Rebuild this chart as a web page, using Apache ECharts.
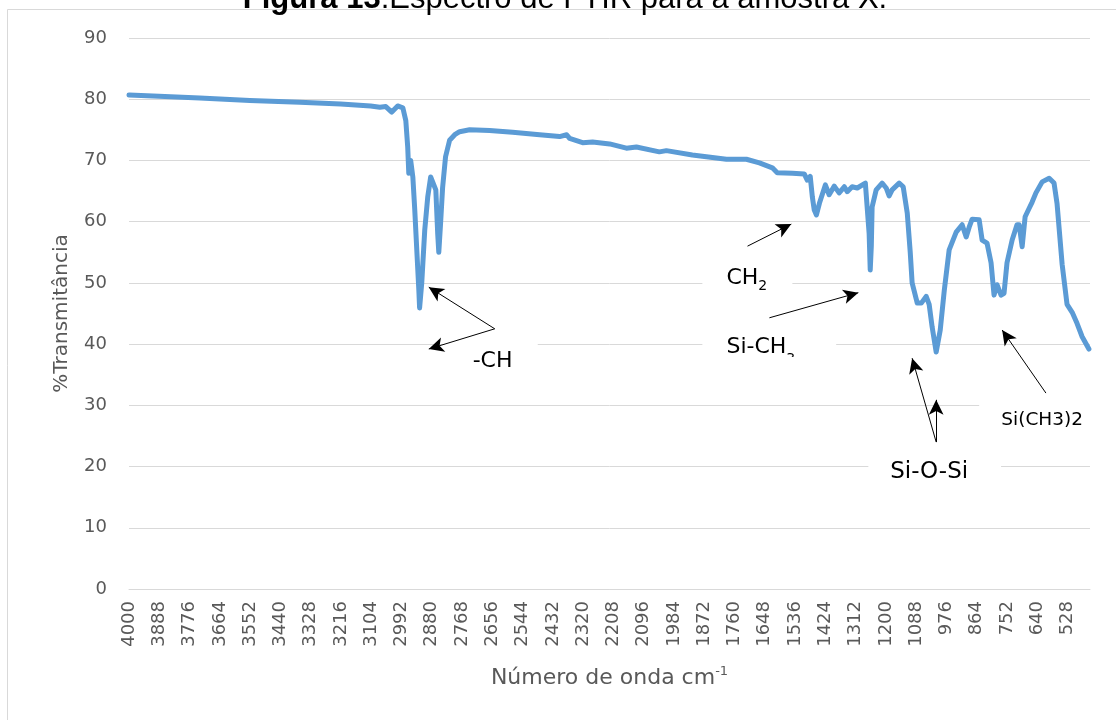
<!DOCTYPE html>
<html>
<head>
<meta charset="utf-8">
<script src="https://cdn.jsdelivr.net/npm/echarts@6/dist/echarts.min.js"></script>
<style>
html,body{margin:0;padding:0;background:#fff;}
#c{width:1116px;height:720px;}
</style>
</head>
<body>
<div id="c"></div>
<script>
// ---- data ----
const wavenumber = [4000,3889,3738,3553,3368,3217,3106,3072,3050,3028,
  3006,2987,2976,2969,2965,2958,2954,2950,2943,2936,
  2928,2925,2917,2906,2895,2884,2877,2865,2858,2854,
  2847,2840,2829,2814,2795,2777,2740,2666,2581,2481,
  2407,2381,2370,2322,2285,2222,2160,2123,2038,2012,
  1916,1790,1716,1668,1620,1602,1546,1502,1491,1480,
  1472,1465,1457,1446,1424,1410,1391,1373,1354,1343,
  1325,1306,1276,1269,1262,1258,1254,1251,1236,1214,
  1199,1188,1177,1151,1136,1121,1110,1103,1084,1069,
  1051,1040,1029,1014,999,984,966,940,918,903,
  892,881,855,844,826,811,800,789,774,763,
  752,733,715,707,696,685,670,659,645,622,
  596,578,567,548,530,511,493,474,449];
const transmittance = [80.7,80.5,80.2,79.8,79.5,79.2,78.9,78.7,78.8,77.9,
  78.9,78.6,76.5,72.2,67.9,70.0,70.1,67.3,62.0,55.9,
  49.0,45.9,50.0,58.6,64.0,67.3,67.0,65.2,58.0,55.0,
  60.0,65.5,70.6,73.3,74.2,74.7,75.0,74.9,74.6,74.2,
  73.9,74.2,73.6,72.9,73.0,72.7,72.0,72.2,71.4,71.6,
  70.9,70.2,70.2,69.6,68.8,68.0,67.9,67.8,66.8,67.4,
  64.0,61.9,61.1,63.0,66.0,64.4,65.8,64.7,65.7,64.9,
  65.7,65.5,66.3,66.0,58.0,52.1,56.0,62.4,65.2,66.3,
  65.5,64.2,65.2,66.3,65.7,61.4,55.0,50.0,46.7,46.7,
  47.8,46.5,42.8,38.7,42.3,48.8,55.4,58.3,59.5,57.5,
  59.1,60.4,60.3,57.0,56.5,53.3,48.0,49.7,48.0,48.3,
  53.3,57.0,59.5,59.5,55.9,60.8,62.2,63.2,64.7,66.5,
  67.1,66.3,63.0,53.0,46.5,45.2,43.4,41.2,39.2];

const axisStart = 4000;     // first tick label (cm-1)
const axisEnd = 445;        // right end of the plot (cm-1)
const tickStep = 112;       // label step (cm-1)
const yTicks = [0, 90, 10]; // min, max, interval

// annotations (wavenumber, %T)
const arrowFrom = [[2647,42.5],[2647,42.5],[1712,56.0],[1631,44.3],[1014,24.0],[1014,24.0],[608,32.0]];
const arrowTo   = [[2891,49.3],[2891,39.2],[1550,59.6],[1302,48.4],[1103,37.7],[1014,30.9],[770,42.3]];
const labelTexts = ['-CH', '{m|CH}{s2|2}', '{m|Si-CH}{s3|3}', 'Si-O-Si', 'Si(CH3)2'];
const labelPos   = [[2655,37.2],[1790,50.8],[1790,39.5],[1040,19.1],[622,27.6]];
const labelBoxes = [[2832,2488,43.9,32.2],[1879,1546,54.1,48.5],[1879,1384,44.3,37.9],[1265,774,23.5,14.5],[855,352,34.1,22.4]];

const toX = wn => axisStart - wn;
const FONT = 'DejaVu Sans';
const GREY = '#595959';

const chart = echarts.init(document.getElementById('c'), null, {renderer: 'canvas', width: 1116, height: 720});

const lineData = wavenumber.map((w, i) => [toX(w), transmittance[i]]);
const markData = arrowFrom.map((f, i) => [
  {coord: [toX(f[0]), f[1]], symbol: 'none'},
  {coord: [toX(arrowTo[i][0]), arrowTo[i][1]], symbol: 'arrow'}
]);

chart.setOption({
  animation: false,
  backgroundColor: '#fff',
  grid: {left: 129, right: 26, top: 38, bottom: 131, containLabel: false},
  xAxis: {
    type: 'value', min: 0, max: toX(axisEnd), interval: tickStep,
    name: '{a|Número de onda cm}{s|-1}',
    nameLocation: 'middle', nameGap: 76,
    nameTextStyle: {
      color: GREY, fontFamily: FONT,
      rich: {
        a: {fontSize: 22, fontFamily: FONT, color: GREY, lineHeight: 26},
        s: {fontSize: 13, fontFamily: FONT, color: GREY, verticalAlign: 'top', lineHeight: 12}
      }
    },
    axisLine: {show: true, lineStyle: {color: '#d9d9d9', width: 1}},
    axisTick: {show: false},
    splitLine: {show: false},
    axisLabel: {
      rotate: 90, margin: 12, fontSize: 18, fontFamily: FONT, color: GREY,
      formatter: v => (Math.round(v) % tickStep === 0 ? String(axisStart - v) : '')
    }
  },
  yAxis: {
    type: 'value', min: yTicks[0], max: yTicks[1], interval: yTicks[2],
    name: '%Transmitância', nameLocation: 'middle', nameGap: 57,
    nameTextStyle: {fontSize: 20, fontFamily: FONT, color: GREY},
    axisLine: {show: false}, axisTick: {show: false},
    splitLine: {lineStyle: {color: '#d9d9d9', width: 1}},
    axisLabel: {fontSize: 18, fontFamily: FONT, color: GREY, margin: 22}
  },
  series: [{
    type: 'line', data: lineData, showSymbol: false, symbol: 'none',
    lineStyle: {color: '#5b9bd5', width: 5, cap: 'round', join: 'round'},
    itemStyle: {color: '#5b9bd5'},
    markLine: {
      silent: true, symbol: ['none', 'arrow'], symbolSize: [11, 15],
      label: {show: false},
      lineStyle: {color: '#000', width: 1, type: 'solid'},
      emphasis: {disabled: true},
      data: markData
    }
  }]
});

// annotation boxes and labels, placed through the chart's coordinate system
const P = (wn, t) => chart.convertToPixel({gridIndex: 0}, [toX(wn), t]);
const graphics = [];
graphics.push({type: 'rect', z: 0, shape: {x: 7.5, y: 9.5, width: 1400, height: 900},
  style: {fill: 'none', stroke: '#d9d9d9', lineWidth: 1}, silent: true});
graphics.push({type: 'text', z: 5, x: 565, y: -1, silent: true,
  style: {
    text: '{b|Figura 13}{r|:Espectro de FTIR para a amostra X.}',
    align: 'center', verticalAlign: 'middle',
    rich: {
      b: {fontSize: 31, fontWeight: 'bold', fontFamily: 'Liberation Sans', fill: '#000', lineHeight: 31},
      r: {fontSize: 31, fontFamily: 'Liberation Sans', fill: '#000', lineHeight: 31}
    }
  }});
const aligns = ['center', 'left', 'left', 'center', 'center'];
const sizes = [22, 22, 22, 23, 18.5];
labelBoxes.forEach((b, i) => {
  const p1 = P(b[0], b[2]), p2 = P(b[1], b[3]);
  graphics.push({type: 'rect', z: 1, z2: 0, silent: true,
    shape: {x: p1[0], y: p1[1], width: p2[0] - p1[0], height: p2[1] - p1[1]},
    style: {fill: '#fff', stroke: null}});
  const lp = P(labelPos[i][0], labelPos[i][1]);
  graphics.push({type: 'text', z: 1, z2: 1, silent: true, x: lp[0], y: lp[1],
    style: {
      text: labelTexts[i], fill: '#000', fontSize: sizes[i], fontFamily: FONT,
      align: aligns[i], verticalAlign: 'middle',
      rich: {
        m: {fontSize: 22, fontFamily: FONT, fill: '#000'},
        s2: {fontSize: 14, fontFamily: FONT, fill: '#000', padding: [16, 0, 0, 0]},
        s3: {fontSize: 14, fontFamily: FONT, fill: '#000', padding: [24, 0, 0, 0]}
      }
    }});
  if (i === 1 || i === 2) {
    graphics.push({type: 'rect', z: 1, z2: 2, silent: true,
      shape: {x: p1[0], y: p2[1], width: p2[0] - p1[0], height: 14},
      style: {fill: '#fff', stroke: null}});
  }
});
chart.setOption({graphic: {elements: graphics}});
</script>
</body>
</html>
